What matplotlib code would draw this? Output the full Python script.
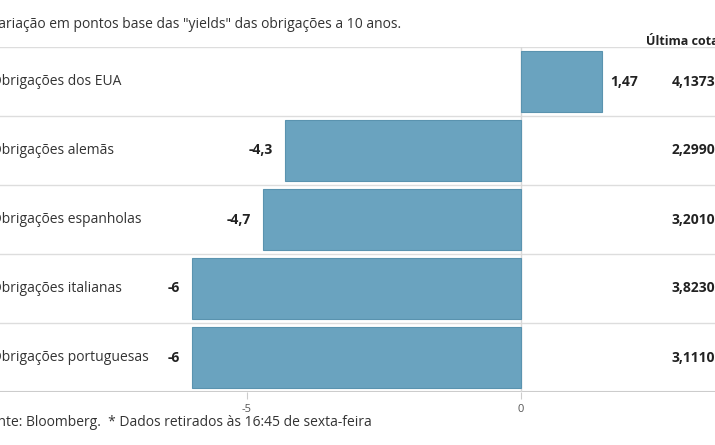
import matplotlib.pyplot as plt

categories = ["Obrigações dos EUA", "Obrigações alemãs", "Obrigações espanholas",
              "Obrigações italianas", "Obrigações portuguesas"]
changes = [1.47, -4.3, -4.7, -6, -6]
change_labels = ["1,47", "-4,3", "-4,7", "-6", "-6"]
last_quotes = ["4,1373", "2,2990", "3,2010", "3,8230", "3,1110"]

plt.rcParams["font.family"] = "Open Sans"
W, H = 715, 445
fig = plt.figure(figsize=(W / 100, H / 100), dpi=100)
top_px, bot_px = 47, 392
ax = fig.add_axes([0, 1 - bot_px / H, 1, (bot_px - top_px) / H])
ppu = 54.8
x0 = 521
ax.set_xlim(-x0 / ppu, (W - x0) / ppu)
ax.set_ylim(len(categories) - 0.5, -0.5)

y = list(range(len(categories)))
ax.barh(y, changes, height=0.87, color="#6aa3bf", edgecolor="#5a93af", linewidth=0.8, zorder=2)
for i in range(len(categories)):
    ax.axhline(i - 0.5, color="#dddddd", lw=1, zorder=1)
ax.axhline(len(categories) - 0.5, color="#cccccc", lw=1.5, zorder=1)
ax.axvline(0, color="#d8d8d8", lw=1, zorder=1)

for i, (v, lab, q, c) in enumerate(zip(changes, change_labels, last_quotes, categories)):
    ax.text(-x0 / ppu - 9 / ppu, i, c, ha="left", va="center", fontsize=10, color="#333333")
    if v >= 0:
        ax.text(v + 9 / ppu, i, lab, ha="left", va="center", fontsize=10, fontweight="bold", color="#222222")
    else:
        ax.text(v - 12 / ppu, i, lab, ha="right", va="center", fontsize=10, fontweight="bold", color="#222222")
    ax.text((672 - x0) / ppu, i, q, ha="left", va="center", fontsize=10, fontweight="bold", color="#222222")

ax.set_xticks([-5, 0])
ax.set_xticklabels(["-5", "0"], fontsize=8, color="#555555")
ax.tick_params(axis="x", length=5, color="#cccccc")
ax.set_yticks([])
for s in ax.spines.values():
    s.set_visible(False)

fig.text(-10 / W, 1 - 25 / H, 'Variação em pontos base das "yields" das obrigações a 10 anos.',
         fontsize=10, color="#333333", va="center")
fig.text(646 / W, 1 - 40 / H, "Última cotação*", fontsize=9, fontweight="bold",
         color="#222222", va="center")
fig.text(-18 / W, 1 - 423 / H, "Fonte: Bloomberg.  * Dados retirados às 16:45 de sexta-feira",
         fontsize=10, color="#333333", va="center")

fig.savefig("out.png", dpi=100)
